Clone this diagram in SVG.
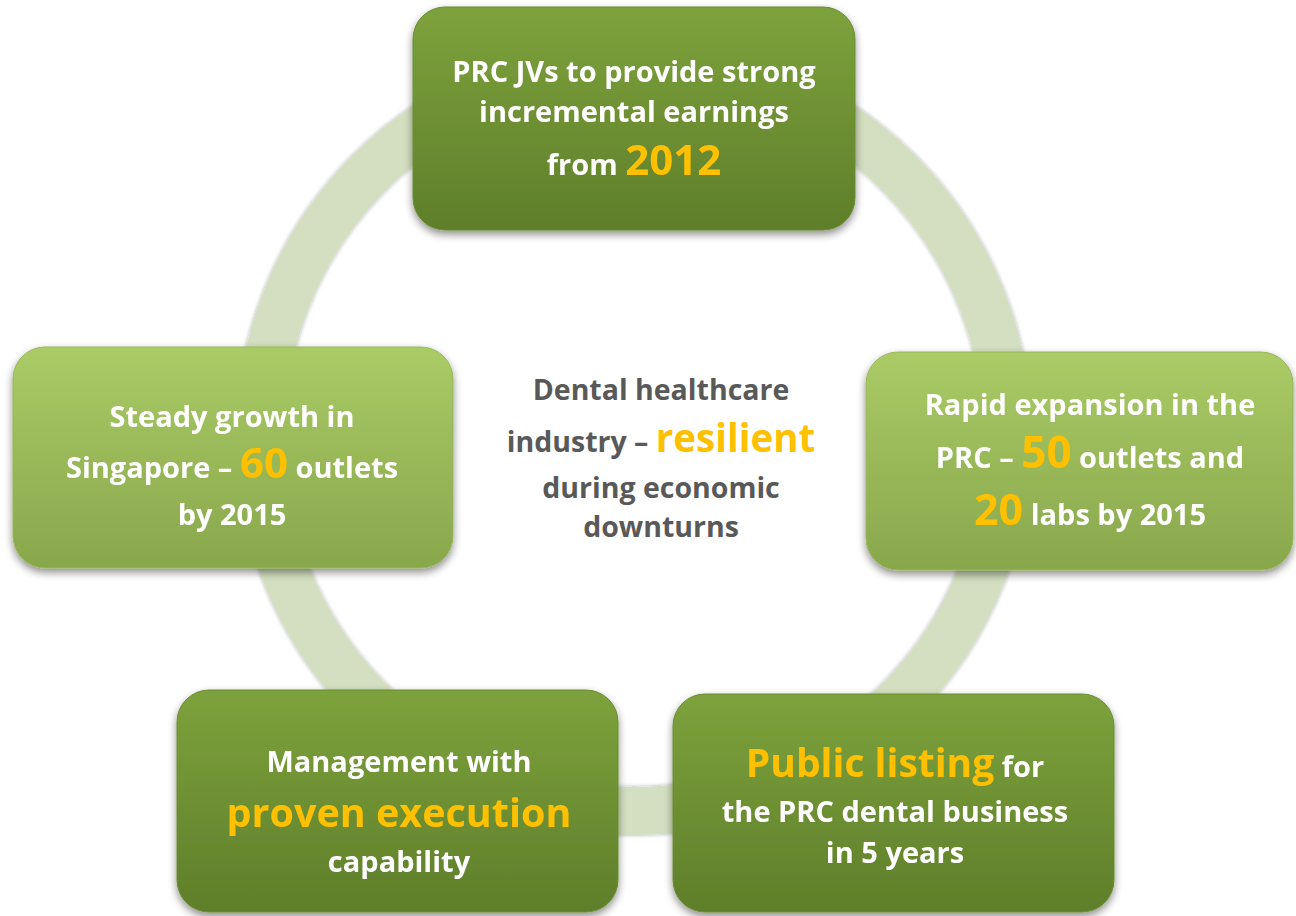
<svg xmlns="http://www.w3.org/2000/svg" width="1296" height="916" viewBox="0 0 1296 916">
  <defs>
    <linearGradient id="gDark" x1="0" y1="0" x2="0" y2="1">
      <stop offset="0" stop-color="#7da23c"/>
      <stop offset="1" stop-color="#5f7e2a"/>
    </linearGradient>
    <linearGradient id="gLight" x1="0" y1="0" x2="0" y2="1">
      <stop offset="0" stop-color="#aacb66"/>
      <stop offset="1" stop-color="#88a74c"/>
    </linearGradient>
    <filter id="shadow" x="-10%" y="-10%" width="120%" height="130%">
      <feGaussianBlur in="SourceAlpha" stdDeviation="4"/>
      <feOffset dx="0" dy="4" result="b"/>
      <feComponentTransfer><feFuncA type="linear" slope="0.45"/></feComponentTransfer>
      <feMerge><feMergeNode/><feMergeNode in="SourceGraphic"/></feMerge>
    </filter>
    <filter id="ringShadow" x="-10%" y="-10%" width="120%" height="120%">
      <feGaussianBlur in="SourceAlpha" stdDeviation="2"/>
      <feComponentTransfer><feFuncA type="linear" slope="0.35"/></feComponentTransfer>
      <feMerge><feMergeNode/><feMergeNode in="SourceGraphic"/></feMerge>
    </filter>
  </defs>
  <style>
    .dark { fill: url(#gDark); stroke: #6b8c30; stroke-width: 1; }
    .light { fill: url(#gLight); stroke: #97b757; stroke-width: 1; }
    text { font-family: "Open Sans", Lato, "Liberation Sans", sans-serif; font-weight: bold; text-anchor: middle; }
    .w { fill: #ffffff; font-size: 29px; }
    .g { fill: #595959; font-size: 28.5px; }
    .o { fill: #ffc000; }
  </style>
  <rect width="1296" height="916" fill="#ffffff"/>

  <!-- cycle ring behind the boxes -->
  <g id="connectors">
    <circle cx="634" cy="437" r="374" fill="none" stroke="#d3dfc0" stroke-width="48" filter="url(#ringShadow)"/>
  </g>

  <g id="center-label">
    <text class="g" x="661" y="400">Dental healthcare</text>
    <text class="g" x="661" y="452">industry – <tspan class="o" font-size="38.5px">resilient</tspan></text>
    <text class="g" x="661" y="498">during economic</text>
    <text class="g" x="661" y="537">downturns</text>
  </g>

  <g id="node-prc-jvs" filter="url(#shadow)">
    <rect class="dark" x="413" y="7" width="442" height="223" rx="32"/>
    <text class="w" x="634" y="82">PRC JVs to provide strong</text>
    <text class="w" x="634" y="122">incremental earnings</text>
    <text class="w" x="634" y="175">from <tspan class="o" font-size="42px">2012</tspan></text>
  </g>

  <g id="node-singapore" filter="url(#shadow)">
    <rect class="light" x="13" y="347" width="440" height="221" rx="32"/>
    <text class="w" x="232" y="427">Steady growth in</text>
    <text class="w" x="232" y="478">Singapore – <tspan class="o" font-size="42px">60</tspan> outlets</text>
    <text class="w" x="232" y="525">by 2015</text>
  </g>

  <g id="node-prc-expansion" filter="url(#shadow)">
    <rect class="light" x="866" y="352" width="427" height="218" rx="32"/>
    <text class="w" x="1090" y="415">Rapid expansion in the</text>
    <text class="w" x="1090" y="468">PRC – <tspan class="o" font-size="44px">50</tspan> outlets and</text>
    <text class="w" x="1090" y="525"><tspan class="o" font-size="43px">20</tspan> labs by 2015</text>
  </g>

  <g id="node-listing" filter="url(#shadow)">
    <rect class="dark" x="673" y="694" width="441" height="218" rx="32"/>
    <text class="w" x="895" y="777"><tspan class="o" font-size="39px">Public listing</tspan> for</text>
    <text class="w" x="895" y="822">the PRC dental business</text>
    <text class="w" x="895" y="863">in 5 years</text>
  </g>

  <g id="node-management" filter="url(#shadow)">
    <rect class="dark" x="177" y="690" width="441" height="222" rx="32"/>
    <text class="w" x="399" y="772">Management with</text>
    <text class="w" x="399" y="827"><tspan class="o" font-size="39.5px">proven execution</tspan></text>
    <text class="w" x="399" y="872">capability</text>
  </g>
</svg>
